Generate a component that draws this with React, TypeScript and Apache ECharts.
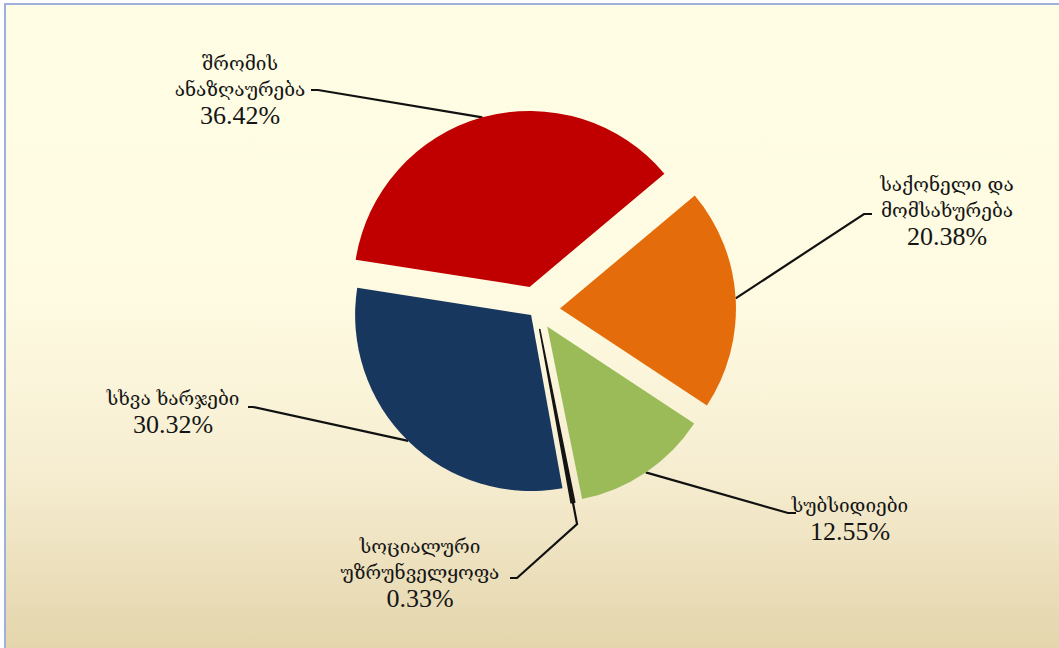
import React, { useEffect, useRef } from 'react';
import * as echarts from 'echarts';

// ---- data ----
const categories = [
  'საქონელი და\nმომსახურება',
  'სუბსიდიები',
  'სოციალური\nუზრუნველყოფა',
  'სხვა ხარჯები',
  'შრომის\nანაზღაურება',
];
const shares = [20.38, 12.55, 0.33, 30.32, 36.42];

// ---- styling / layout ----
const sliceColors = ['#E46C0A', '#9BBB59', '#141414', '#17375E', '#C00000'];
const sliceBorders = [0, 0, 1.6, 0, 0];
const explode = [24, 20, 20, 7, 24];
const W = 1059;
const H = 648;
const CX = 536;
const CY = 310;
const R = 176;
const START = 40;
const labelCenters = [
  [947, 210],
  [850, 518],
  [420, 572],
  [173, 411],
  [240, 89],
];
const radialTail = [0, 0, 22, 0, 0];
const leaderBends = [
  [[864, 214], [872, 214]],
  [[788, 513], [796, 513]],
  [[517, 578], [510, 578]],
  [[253, 407], [248, 407]],
  [[318, 90], [311, 90]],
];

export default function App() {
  const ref = useRef<HTMLDivElement>(null);
  useEffect(() => {
    if (!ref.current) return;
    const chart = echarts.init(ref.current, undefined, { renderer: 'svg' });
    const total = shares.reduce((a, b) => a + b, 0);
    let acc = 0;
    const mids = shares.map((v) => {
      const s = START - (360 * acc) / total;
      acc += v;
      return s - (180 * v) / total;
    });
    const centers = mids.map((m, i) => {
      const rad = (m * Math.PI) / 180;
      return [CX + explode[i] * Math.cos(rad), CY - explode[i] * Math.sin(rad)];
    });
    const lineStyle = { color: '#111', width: 2.2 };

    const series = shares.map((_, k) => ({
      type: 'pie',
      name: categories[k],
      center: centers[k],
      radius: R,
      startAngle: START,
      clockwise: true,
      silent: true,
      avoidLabelOverlap: false,
      emphasis: { disabled: true },
      label: {
        show: true,
        position: 'outside',
        formatter: (p: any) => `{n|${p.name}}\n{p|${Number(p.value).toFixed(2)}%}`,
        rich: {
          n: {
            fontFamily: "'DejaVu Serif', serif",
            fontSize: 19,
            lineHeight: 26,
            color: '#151515',
            align: 'center',
          },
          p: {
            fontFamily: "'Liberation Serif', 'Times New Roman', serif",
            fontSize: 26,
            lineHeight: 27,
            color: '#151515',
            align: 'center',
          },
        },
      },
      labelLine: { show: true, lineStyle },
      labelLayout: (params: any) => {
        const i = params.dataIndex;
        if (i !== k) return {};
        const m = (mids[i] * Math.PI) / 180;
        const c = centers[i];
        const a = [c[0] + R * Math.cos(m), c[1] - R * Math.sin(m)];
        const pts: number[][] = [a];
        if (radialTail[i]) {
          pts.push([a[0] + radialTail[i] * Math.cos(m), a[1] - radialTail[i] * Math.sin(m)]);
        }
        leaderBends[i].forEach((p) => pts.push(p));
        return {
          x: labelCenters[i][0],
          y: labelCenters[i][1],
          align: 'center',
          verticalAlign: 'middle',
          labelLinePoints: pts,
        };
      },
      data: shares.map((v, i) => ({
        name: categories[i],
        value: v,
        itemStyle:
          i === k
            ? {
                color: sliceColors[i],
                borderColor: sliceColors[i],
                borderWidth: sliceBorders[i],
              }
            : { color: 'rgba(0,0,0,0)', borderWidth: 0 },
        label: { show: i === k },
        labelLine: { show: i === k, lineStyle },
      })),
    }));

    chart.setOption({
      animation: false,
      backgroundColor: '#ffffff',
      graphic: [
        {
          type: 'rect',
          z: -10,
          silent: true,
          shape: { x: 5, y: 4, width: 1062, height: 652 },
          style: {
            fill: new echarts.graphic.LinearGradient(0, 0, 0, 1, [
              { offset: 0, color: '#FFFDE4' },
              { offset: 0.45, color: '#FEFBE2' },
              { offset: 0.72, color: '#F6EDD1' },
              { offset: 1, color: '#E3D4AA' },
            ]),
            stroke: '#9EB1DA',
            lineWidth: 2,
          },
        },
      ],
      series,
    } as any);
    return () => chart.dispose();
  }, []);
  return (
    <div
      ref={ref}
      style={{ position: 'absolute', left: 0, top: 0, width: W, height: H }}
    />
  );
}
